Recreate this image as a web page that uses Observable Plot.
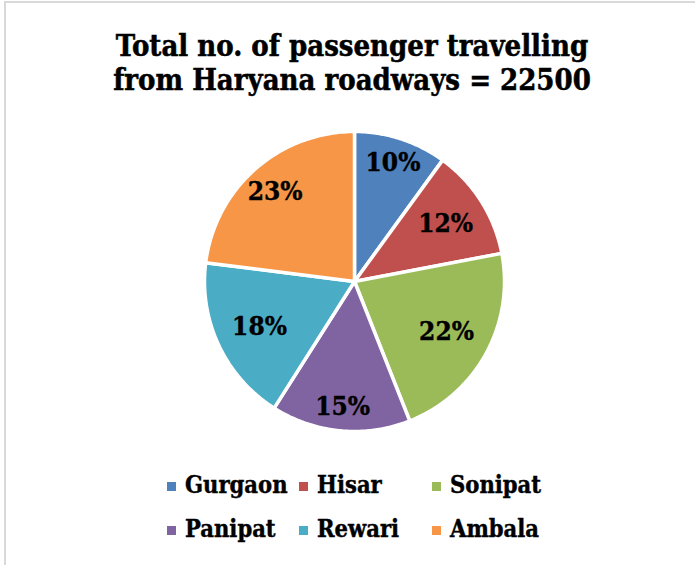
<!DOCTYPE html>
<html><head><meta charset="utf-8">
<script src="https://cdn.jsdelivr.net/npm/d3@7"></script>
<script src="https://cdn.jsdelivr.net/npm/@observablehq/plot@0.6"></script>
<style>
body{margin:0;background:#fff;}
#wrap{position:relative;width:695px;height:565px;overflow:hidden;background:#fff;
  font-family:"DejaVu Serif Condensed","DejaVu Serif",serif;font-weight:bold;font-stretch:condensed;color:#000;}
#bl{position:absolute;left:4px;top:1px;width:2px;height:564px;background:#d9d9d9}
#bt{position:absolute;left:4px;top:1px;width:691px;height:2px;background:#d9d9d9}
#title{position:absolute;left:0;width:704px;top:29px;text-align:center;font-size:29px;line-height:34px;white-space:nowrap;-webkit-text-stroke:0.5px #000}
#chart{position:absolute;left:0;top:121px}
.sw{position:absolute;width:9px;height:9px}
.lt{position:absolute;font-size:23.5px;line-height:26px;white-space:nowrap;-webkit-text-stroke:0.4px #000}
</style></head>
<body>
<div id="wrap">
  <div id="bl"></div><div id="bt"></div>
  <div id="title">Total no. of passenger travelling<br>from Haryana roadways = 22500</div>
  <div id="chart"></div>
</div>
<script>
// Data
const categories = ["Gurgaon", "Hisar", "Sonipat", "Panipat", "Rewari", "Ambala"];
const shares = [10, 12, 22, 15, 18, 23];
const colors = ["#4F81BD", "#C0504D", "#9BBB59", "#8064A2", "#4BACC6", "#F79646"];

// Layout (not data)
const labelRadius = [0.83, 0.72, 0.70, 0.84, 0.70, 0.80];
const legendCols = [167, 299, 432];
const legendRows = [486, 530];

const arcs = d3.pie().sort(null).value(d => d)(shares);
const pts = [];
const labels = [];
arcs.forEach((a, i) => {
  const cat = categories[i];
  pts.push({cat, x: 0, y: 0});
  const n = 80;
  for (let k = 0; k <= n; k++) {
    const t = a.startAngle + (a.endAngle - a.startAngle) * k / n;
    pts.push({cat, x: Math.sin(t), y: Math.cos(t)});
  }
  pts.push({cat, x: 0, y: 0});
  const m = (a.startAngle + a.endAngle) / 2;
  labels.push({cat, x: Math.sin(m) * labelRadius[i], y: Math.cos(m) * labelRadius[i], text: shares[i] + "%"});
});

const chart = Plot.plot({
  width: 695, height: 320,
  marginLeft: 204, marginRight: 191, marginTop: 10, marginBottom: 10,
  x: {domain: [-1, 1], axis: null},
  y: {domain: [-1, 1], axis: null},
  color: {domain: categories, range: colors},
  style: {background: "transparent", overflow: "visible"},
  marks: [
    Plot.line(pts, {x: "x", y: "y", z: "cat", fill: "cat", stroke: "white", strokeWidth: 3.5, strokeLinejoin: "round", curve: "linear"}),
    Plot.text(labels, {x: "x", y: "y", text: "text", fill: "black", fontSize: 26, fontWeight: "bold",
      fontFamily: '"DejaVu Serif Condensed","DejaVu Serif",serif', stroke: "black", strokeWidth: 0.4})
  ]
});
document.getElementById("chart").appendChild(chart);

// Legend
const wrap = document.getElementById("wrap");
categories.forEach((c, i) => {
  const col = i % 3, row = Math.floor(i / 3);
  const sw = document.createElement("div");
  sw.className = "sw";
  sw.style.left = legendCols[col] + "px";
  sw.style.top = (legendRows[row] - 4.5) + "px";
  sw.style.background = colors[i];
  wrap.appendChild(sw);
  const t = document.createElement("div");
  t.className = "lt";
  t.textContent = c;
  t.style.left = (legendCols[col] + 18) + "px";
  t.style.top = (legendRows[row] - 14) + "px";
  wrap.appendChild(t);
});
</script>
</body></html>
